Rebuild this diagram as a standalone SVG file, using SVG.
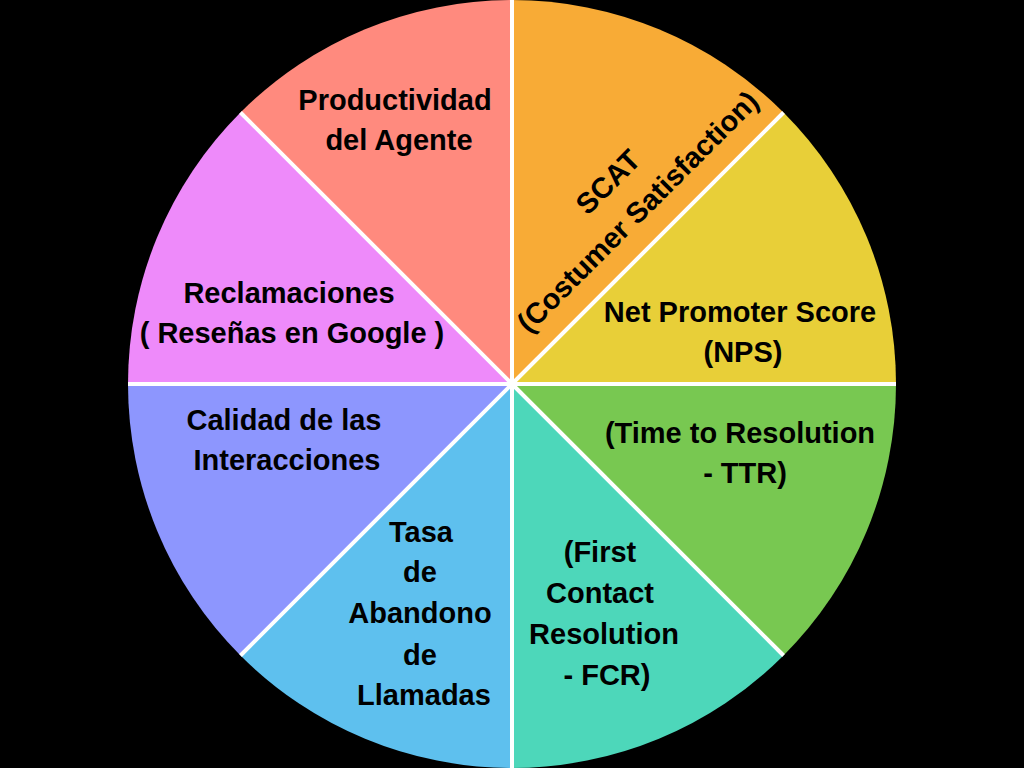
<svg xmlns="http://www.w3.org/2000/svg" width="1024" height="768" viewBox="0 0 1024 768">
  <style>
    .lbl { font-family: "Liberation Sans", Arial, Helvetica, sans-serif; font-weight: bold; font-size: 29px; fill: #000; text-anchor: middle; }
    .sep { stroke: #fff; stroke-width: 4; }
  </style>
  <rect x="0" y="0" width="1024" height="768" fill="#000"/>
  <g id="productividad">
    <path d="M512,384 L240.47,112.47 A384,384 0 0 1 512,0 Z" fill="#FF8A7E"/>
    <text class="lbl" x="395" y="110">Productividad</text>
    <text class="lbl" x="399" y="150">del Agente</text>
  </g>
  <g id="scat">
    <path d="M512,384 L512,0 A384,384 0 0 1 783.53,112.47 Z" fill="#F8AB36"/>
    <g transform="translate(615,189) rotate(-45)">
      <text class="lbl" x="0" y="0">SCAT</text>
      <text class="lbl" x="0" y="42">(Costumer Satisfaction)</text>
    </g>
  </g>
  <g id="nps">
    <path d="M512,384 L783.53,112.47 A384,384 0 0 1 896,384 Z" fill="#E8CF38"/>
    <text class="lbl" x="740" y="322">Net Promoter Score</text>
    <text class="lbl" x="743" y="362">(NPS)</text>
  </g>
  <g id="ttr">
    <path d="M512,384 L896,384 A384,384 0 0 1 783.53,655.53 Z" fill="#78C851"/>
    <text class="lbl" x="740" y="443">(Time to Resolution</text>
    <text class="lbl" x="745" y="483">- TTR)</text>
  </g>
  <g id="fcr">
    <path d="M512,384 L783.53,655.53 A384,384 0 0 1 512,768 Z" fill="#4DD7BA"/>
    <text class="lbl" x="600" y="562">(First</text>
    <text class="lbl" x="600" y="603">Contact</text>
    <text class="lbl" x="604" y="644">Resolution</text>
    <text class="lbl" x="607" y="685">- FCR)</text>
  </g>
  <g id="abandono">
    <path d="M512,384 L512,768 A384,384 0 0 1 240.47,655.53 Z" fill="#5EC0EE"/>
    <text class="lbl" x="421" y="542">Tasa</text>
    <text class="lbl" x="420" y="582">de</text>
    <text class="lbl" x="420" y="623">Abandono</text>
    <text class="lbl" x="420" y="665">de</text>
    <text class="lbl" x="424" y="705">Llamadas</text>
  </g>
  <g id="calidad">
    <path d="M512,384 L240.47,655.53 A384,384 0 0 1 128,384 Z" fill="#8D96FE"/>
    <text class="lbl" x="284" y="430">Calidad de las</text>
    <text class="lbl" x="287" y="470">Interacciones</text>
  </g>
  <g id="reclamaciones">
    <path d="M512,384 L128,384 A384,384 0 0 1 240.47,112.47 Z" fill="#EE8AFA"/>
    <text class="lbl" x="289" y="303">Reclamaciones</text>
    <text class="lbl" x="292" y="343">( Reseñas en Google )</text>
  </g>
  <g id="separators">
    <line class="sep" x1="512" y1="384" x2="512" y2="0"/>
    <line class="sep" x1="512" y1="384" x2="783.53" y2="112.47"/>
    <line class="sep" x1="512" y1="384" x2="896" y2="384"/>
    <line class="sep" x1="512" y1="384" x2="783.53" y2="655.53"/>
    <line class="sep" x1="512" y1="384" x2="512" y2="768"/>
    <line class="sep" x1="512" y1="384" x2="240.47" y2="655.53"/>
    <line class="sep" x1="512" y1="384" x2="128" y2="384"/>
    <line class="sep" x1="512" y1="384" x2="240.47" y2="112.47"/>
  </g>
</svg>
